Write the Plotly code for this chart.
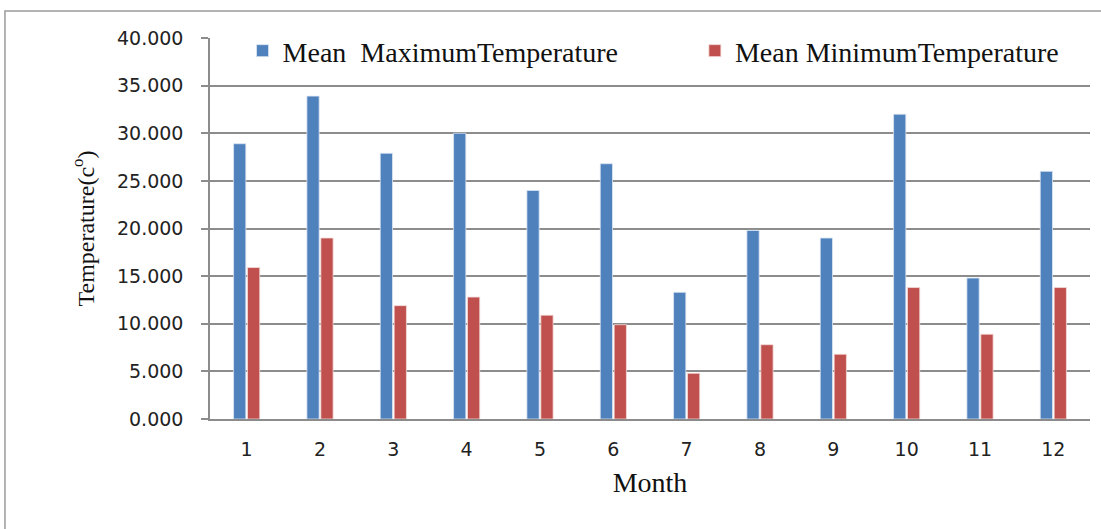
import plotly.graph_objects as go

months = ["1", "2", "3", "4", "5", "6", "7", "8", "9", "10", "11", "12"]
mean_max = [28.9, 33.9, 27.9, 30.0, 24.0, 26.8, 13.3, 19.8, 19.0, 32.0, 14.8, 26.0]
mean_min = [15.9, 19.0, 11.9, 12.8, 10.9, 9.9, 4.8, 7.8, 6.8, 13.8, 8.9, 13.8]
y_ticks = [0, 5, 10, 15, 20, 25, 30, 35, 40]

serif = "Liberation Serif, Times New Roman, serif"
sans = "DejaVu Sans, Verdana, sans-serif"

fig = go.Figure()
fig.add_trace(go.Bar(x=months, y=mean_max, name="Mean  MaximumTemperature", legend="legend",
                     marker=dict(color="#4F81BD", line=dict(color="#DCE6F2", width=0.8))))
fig.add_trace(go.Bar(x=months, y=mean_min, name="Mean MinimumTemperature", legend="legend2",
                     marker=dict(color="#C0504D", line=dict(color="#F2DCDB", width=0.8))))

legend_common = dict(orientation="h", yanchor="middle", y=0.966, xanchor="left",
                     font=dict(family=serif, size=28, color="#111"),
                     bgcolor="rgba(0,0,0,0)", itemwidth=30)

fig.update_layout(
    width=1101, height=529,
    margin=dict(l=210, r=11, t=38, b=110, autoexpand=False),
    paper_bgcolor="white", plot_bgcolor="white",
    barmode="group", bargap=0.62, bargroupgap=0.12,
    showlegend=True,
    legend=dict(x=0.037, **legend_common),
    legend2=dict(x=0.551, **legend_common),
    xaxis=dict(type="category", showgrid=False, showline=True, linecolor="#8C8C8C",
               linewidth=1.5, ticks="", ticklabelstandoff=12,
               tickfont=dict(family=sans, size=19, color="#222"),
               title=dict(text="Month", font=dict(family=serif, size=28, color="#111"),
                          standoff=14)),
    yaxis=dict(range=[0, 40], tickvals=y_ticks, tickformat=".3f",
               showgrid=True, gridcolor="#8C8C8C", gridwidth=1.5,
               showline=True, linecolor="#8C8C8C", linewidth=1.5,
               ticks="outside", ticklen=7, tickcolor="#8C8C8C", tickwidth=1.5,
               ticklabelstandoff=14, zeroline=False,
               tickfont=dict(family=sans, size=19, color="#222"),
               title=dict(text="Temperature(c<sup>o</sup>)",
                          font=dict(family=serif, size=24, color="#111"), standoff=16)),
    shapes=[dict(type="rect", xref="paper", yref="paper",
                 x0=-0.233, x1=1.02, y0=-0.4, y1=1.071,
                 line=dict(color="#9A9A9A", width=1.5), fillcolor="rgba(0,0,0,0)",
                 layer="below")],
)

fig.write_html("out.html")
